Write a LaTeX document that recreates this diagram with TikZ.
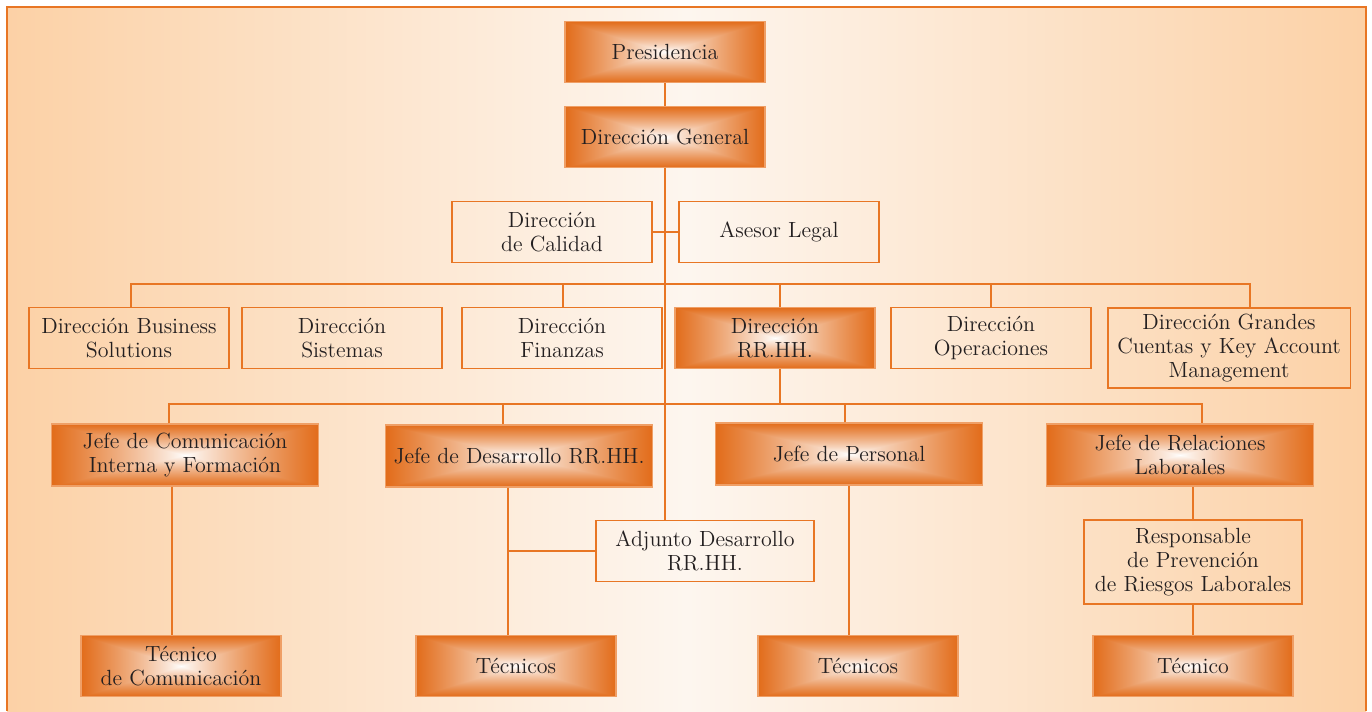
\documentclass[tikz,border=0pt]{standalone}
\usetikzlibrary{positioning}
\definecolor{bgedge}{RGB}{252,209,166}
\definecolor{bgmid}{RGB}{253,246,239}
\definecolor{lineor}{RGB}{232,118,36}
\definecolor{txt}{RGB}{35,31,32}
\pgfdeclarefunctionalshading{boxsh}{\pgfpointorigin}{\pgfpoint{100bp}{100bp}}{}{
   50 sub abs exch 50 sub abs 2 copy lt {exch} if pop
   25 div dup 1 gt {pop 1} if 0.85 exp
   dup 0.114 mul 1 exch sub exch
   dup 0.576 mul 1 exch sub exch
   0.898 mul 1 exch sub}
\tikzset{
   box/.style={draw=lineor, line width=1.1pt, minimum width=4cm, minimum height=1.22cm,
      inner sep=0pt, align=center, text=txt, font=\fontsize{12.5}{13.8}\selectfont},
   fillbox/.style={box, draw=lineor!70!white, line width=0.8pt, shade, shading=boxsh},
   link/.style={draw=lineor, line width=0.8pt}
}
\begin{document}
\begin{tikzpicture}[x=0.02cm,y=-0.02cm]
   \useasboundingbox (0,0) rectangle (1372,711);
   \fill[left color=bgedge, right color=bgedge, middle color=bgmid] (7,7) rectangle (1366,711);
   \draw[lineor, line width=1.2pt] (7,711) -- (7,7) -- (1366,7) -- (1366,711);

   \node[fillbox] (pres) at (665,52) {Presidencia};
   \node[fillbox] (dg) at (665,137) {Direcci\'on General};
   \node[box] (cal) at (552,232) {Direcci\'on\\de Calidad};
   \node[box] (ase) at (779,232) {Asesor Legal};

   \node[box] (bs) at (129,338) {Direcci\'on Business\\Solutions};
   \node[box] (sis) at (342,338) {Direcci\'on\\Sistemas};
   \node[box] (fin) at (562,338) {Direcci\'on\\Finanzas};
   \node[fillbox] (rrhh) at (775,338) {Direcci\'on\\RR.HH.};
   \node[box] (ope) at (991,338) {Direcci\'on\\Operaciones};
   \node[box, minimum width=4.86cm, minimum height=1.6cm] (gc) at (1229,348)
   {Direcci\'on Grandes\\Cuentas y Key Account\\Management};

   \node[fillbox, minimum width=5.34cm, minimum height=1.24cm] (jcom) at (185,455)
   {Jefe de Comunicaci\'on\\Interna y Formaci\'on};
   \node[fillbox, minimum width=5.34cm, minimum height=1.24cm] (jdes) at (519,456)
   {Jefe de Desarrollo RR.HH.};
   \node[fillbox, minimum width=5.34cm, minimum height=1.24cm] (jper) at (849,454)
   {Jefe de Personal};
   \node[fillbox, minimum width=5.34cm, minimum height=1.24cm] (jrel) at (1180,455)
   {Jefe de Relaciones\\Laborales};

   \node[box, minimum width=4.36cm] (adj) at (705,551) {Adjunto Desarrollo\\RR.HH.};
   \node[box, minimum width=4.36cm, minimum height=1.68cm] (resp) at (1193,562)
   {Responsable\\de Prevenci\'on\\de Riesgos Laborales};

   \node[fillbox] (tcom) at (181,666) {T\'ecnico\\de Comunicaci\'on};
   \node[fillbox] (tec1) at (516,666) {T\'ecnicos};
   \node[fillbox] (tec2) at (858,666) {T\'ecnicos};
   \node[fillbox] (tec3) at (1193,666) {T\'ecnico};

   \coordinate (b1) at (668,284);
   \coordinate (b2) at (668,404);
   \coordinate (v1) at ([xshift=-0.26cm]jcom.south);
   \coordinate (v2) at ([xshift=-0.22cm]jdes.south);

   \draw[link] (pres) -- (dg);
   \draw[link] (dg.south) -- (dg.south |- adj.north);
   \draw[link] (cal.east) -- (ase.west);

   \draw[link] ([xshift=0.04cm]bs.north) -- ([xshift=0.04cm]bs.north |- b1)
   -- ([xshift=0.42cm]gc.north |- b1) -- ([xshift=0.42cm]gc.north);
   \foreach \n/\s in {fin/0.02cm,rrhh/0.1cm,ope/0cm}
      \draw[link] ([xshift=\s]\n.north) -- ([xshift=\s]\n.north |- b1);

   \draw[link] ([xshift=0.1cm]rrhh.south) -- ([xshift=0.1cm]rrhh.south |- b2);
   \draw[link] ([xshift=-0.32cm]jcom.north) -- ([xshift=-0.32cm]jcom.north |- b2)
   -- ([xshift=0.44cm]jrel.north |- b2) -- ([xshift=0.44cm]jrel.north);
   \foreach \n/\s in {jdes/-0.32cm,jper/-0.08cm}
      \draw[link] ([xshift=\s]\n.north) -- ([xshift=\s]\n.north |- b2);

   \draw[link] (v1) -- (v1 |- tcom.north);
   \draw[link] (v2) -- (v2 |- tec1.north);
   \draw[link] (adj.west) -- (adj.west -| v2);
   \draw[link] (jper.south) -- (jper.south |- tec2.north);
   \draw[link] (jrel.south -| resp.north) -- (resp.north);
   \draw[link] (resp) -- (tec3);
\end{tikzpicture}
\end{document}
